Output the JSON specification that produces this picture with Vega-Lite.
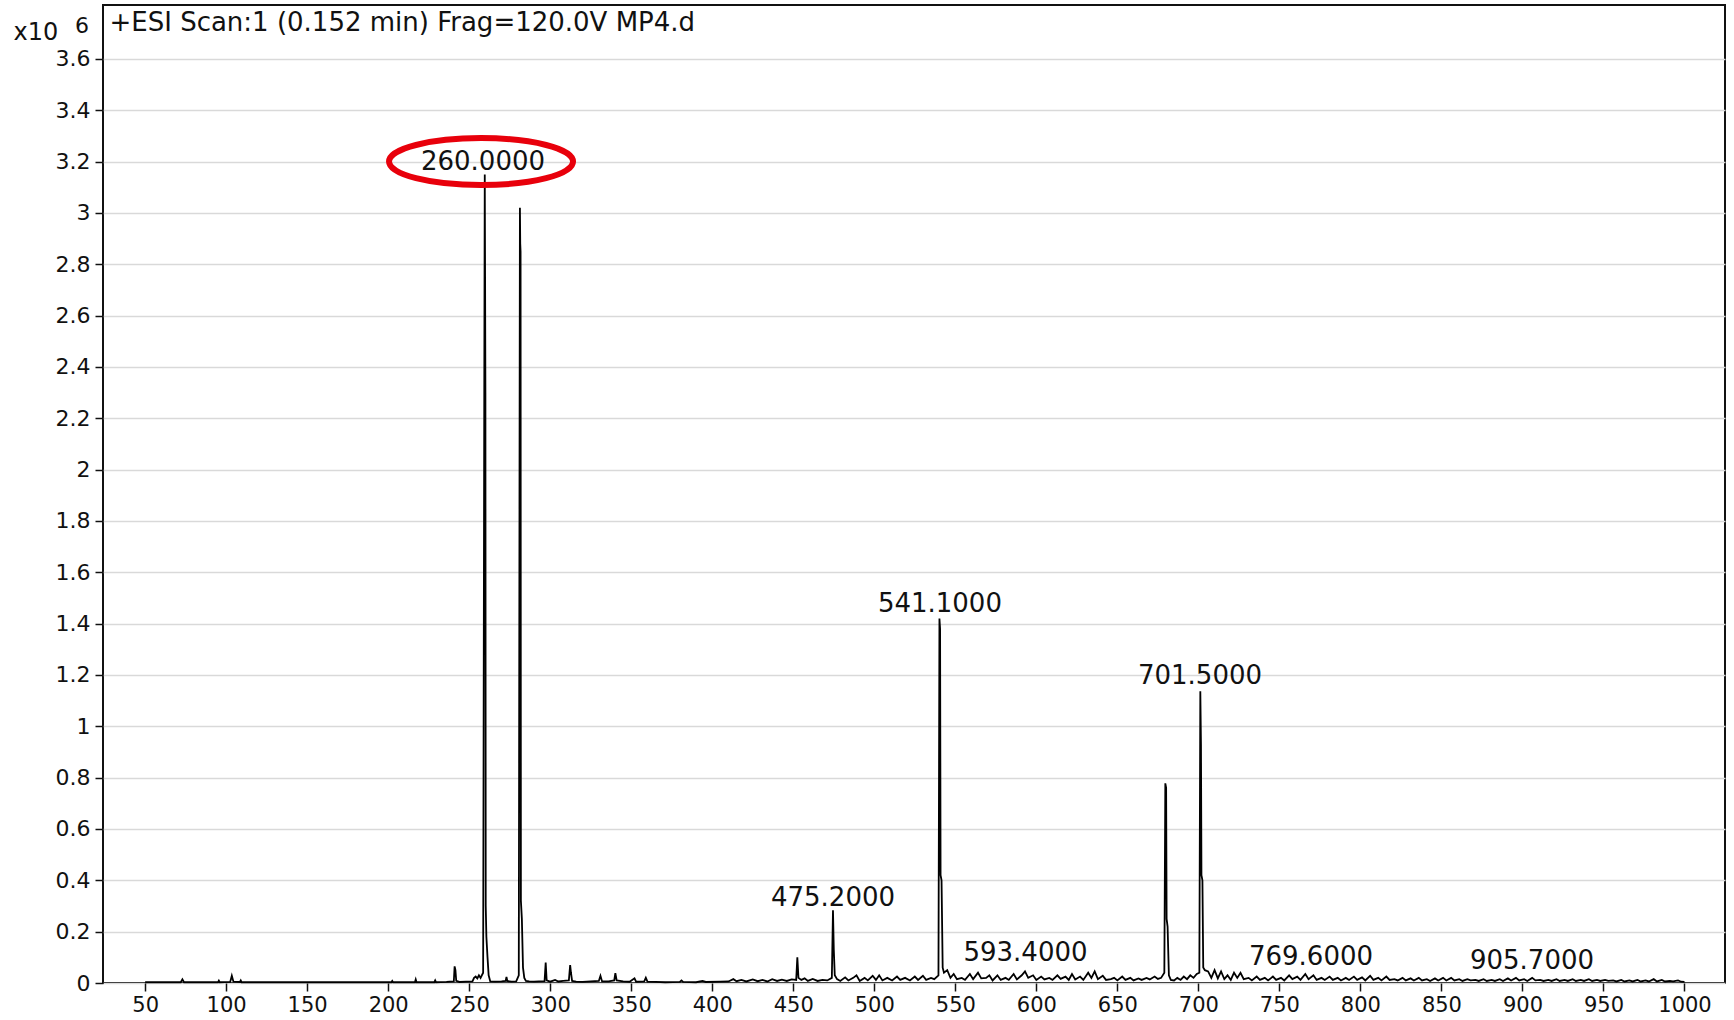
{
  "$schema": "https://vega.github.io/schema/vega-lite/v6.json",
  "width": 1622,
  "height": 978,
  "autosize": {"type": "none"},
  "padding": {"left": 103, "top": 5, "right": 9, "bottom": 37},
  "background": "white",
  "config": {
    "view": {"stroke": "#111", "strokeWidth": 2},
    "axis": {
      "labelFont": "DejaVu Sans",
      "labelFontSize": 21,
      "labelColor": "#111",
      "tickColor": "#111",
      "tickWidth": 1.5,
      "tickSize": 8,
      "domain": false,
      "gridColor": "#d9d9d9",
      "gridWidth": 1.5
    }
  },
  "datasets": {
    "spectrum": [
      {"mz": 50, "i": 0.003}, {"mz": 60, "i": 0.003}, {"mz": 72, "i": 0.003}, {"mz": 73, "i": 0.014}, {"mz": 74, "i": 0.003},
      {"mz": 85, "i": 0.003}, {"mz": 95, "i": 0.003}, {"mz": 95.5, "i": 0.009}, {"mz": 96, "i": 0.003},
      {"mz": 102.5, "i": 0.004}, {"mz": 103.5, "i": 0.028}, {"mz": 104.5, "i": 0.005}, {"mz": 108.5, "i": 0.004}, {"mz": 109, "i": 0.01}, {"mz": 109.5, "i": 0.003},
      {"mz": 150, "i": 0.003}, {"mz": 202, "i": 0.003}, {"mz": 202.5, "i": 0.008}, {"mz": 203, "i": 0.003},
      {"mz": 216.5, "i": 0.003}, {"mz": 217, "i": 0.014}, {"mz": 217.5, "i": 0.003}, {"mz": 228.5, "i": 0.003}, {"mz": 229, "i": 0.01}, {"mz": 229.5, "i": 0.003},
      {"mz": 236, "i": 0.004}, {"mz": 238, "i": 0.005}, {"mz": 240.5, "i": 0.006}, {"mz": 241, "i": 0.065}, {"mz": 241.5, "i": 0.05}, {"mz": 242, "i": 0.008},
      {"mz": 244, "i": 0.004}, {"mz": 248, "i": 0.005}, {"mz": 252, "i": 0.006}, {"mz": 253, "i": 0.02}, {"mz": 254, "i": 0.025}, {"mz": 255, "i": 0.018},
      {"mz": 256, "i": 0.03}, {"mz": 257, "i": 0.02}, {"mz": 258.6, "i": 0.04}, {"mz": 259.3, "i": 2.3}, {"mz": 259.6, "i": 3.15}, {"mz": 259.8, "i": 2.75},
      {"mz": 260.0, "i": 2.3}, {"mz": 260.2, "i": 0.3}, {"mz": 260.6, "i": 0.18}, {"mz": 261.3, "i": 0.1}, {"mz": 262, "i": 0.03}, {"mz": 263, "i": 0.006},
      {"mz": 266, "i": 0.005}, {"mz": 270, "i": 0.006}, {"mz": 272.5, "i": 0.008}, {"mz": 273, "i": 0.024}, {"mz": 273.5, "i": 0.008},
      {"mz": 276, "i": 0.005}, {"mz": 279, "i": 0.006}, {"mz": 280.6, "i": 0.03}, {"mz": 281.3, "i": 3.02}, {"mz": 281.5, "i": 2.88}, {"mz": 281.7, "i": 2.85},
      {"mz": 281.9, "i": 0.32}, {"mz": 282.5, "i": 0.25}, {"mz": 283.2, "i": 0.06}, {"mz": 284, "i": 0.02}, {"mz": 285, "i": 0.008},
      {"mz": 287, "i": 0.006}, {"mz": 290, "i": 0.005}, {"mz": 293, "i": 0.006}, {"mz": 296.5, "i": 0.007}, {"mz": 297.2, "i": 0.08}, {"mz": 297.8, "i": 0.01},
      {"mz": 300, "i": 0.005}, {"mz": 303, "i": 0.012}, {"mz": 305, "i": 0.006}, {"mz": 308, "i": 0.008}, {"mz": 311.5, "i": 0.01}, {"mz": 312.3, "i": 0.07},
      {"mz": 312.8, "i": 0.04}, {"mz": 313.5, "i": 0.008}, {"mz": 316, "i": 0.005}, {"mz": 320, "i": 0.004}, {"mz": 325, "i": 0.006}, {"mz": 330, "i": 0.008},
      {"mz": 331, "i": 0.028}, {"mz": 332, "i": 0.006}, {"mz": 336, "i": 0.006}, {"mz": 339.5, "i": 0.01}, {"mz": 340.2, "i": 0.038}, {"mz": 341, "i": 0.01},
      {"mz": 345, "i": 0.006}, {"mz": 349, "i": 0.005}, {"mz": 352, "i": 0.018}, {"mz": 353, "i": 0.005}, {"mz": 358, "i": 0.006}, {"mz": 359, "i": 0.02},
      {"mz": 360, "i": 0.005}, {"mz": 365, "i": 0.004}, {"mz": 371, "i": 0.003}, {"mz": 380, "i": 0.004}, {"mz": 381, "i": 0.01}, {"mz": 382, "i": 0.004},
      {"mz": 390, "i": 0.003}, {"mz": 394, "i": 0.008}, {"mz": 396, "i": 0.004}, {"mz": 405, "i": 0.005}, {"mz": 410, "i": 0.006}, {"mz": 413, "i": 0.015},
      {"mz": 415, "i": 0.007}, {"mz": 418, "i": 0.012}, {"mz": 421, "i": 0.006}, {"mz": 425, "i": 0.014}, {"mz": 428, "i": 0.007}, {"mz": 431, "i": 0.012},
      {"mz": 434, "i": 0.006}, {"mz": 437, "i": 0.015}, {"mz": 440, "i": 0.008}, {"mz": 443, "i": 0.013}, {"mz": 446, "i": 0.008}, {"mz": 449, "i": 0.014},
      {"mz": 451.8, "i": 0.012}, {"mz": 452.5, "i": 0.1}, {"mz": 453.2, "i": 0.02}, {"mz": 455, "i": 0.012}, {"mz": 457, "i": 0.018}, {"mz": 459, "i": 0.008},
      {"mz": 462, "i": 0.016}, {"mz": 465, "i": 0.008}, {"mz": 468, "i": 0.012}, {"mz": 471, "i": 0.01}, {"mz": 473.8, "i": 0.02}, {"mz": 474.5, "i": 0.283},
      {"mz": 475, "i": 0.13}, {"mz": 475.6, "i": 0.03}, {"mz": 477, "i": 0.015}, {"mz": 479, "i": 0.008}, {"mz": 482, "i": 0.022}, {"mz": 484, "i": 0.01},
      {"mz": 487, "i": 0.02}, {"mz": 489, "i": 0.03}, {"mz": 491, "i": 0.008}, {"mz": 494, "i": 0.02}, {"mz": 496, "i": 0.01}, {"mz": 499, "i": 0.028},
      {"mz": 501, "i": 0.012}, {"mz": 503, "i": 0.03}, {"mz": 505, "i": 0.01}, {"mz": 508, "i": 0.02}, {"mz": 511, "i": 0.01}, {"mz": 514, "i": 0.025},
      {"mz": 516, "i": 0.012}, {"mz": 519, "i": 0.02}, {"mz": 522, "i": 0.01}, {"mz": 525, "i": 0.025}, {"mz": 527, "i": 0.012}, {"mz": 530, "i": 0.028},
      {"mz": 532, "i": 0.012}, {"mz": 535, "i": 0.02}, {"mz": 537, "i": 0.015}, {"mz": 539.6, "i": 0.03}, {"mz": 540.2, "i": 1.42}, {"mz": 540.6, "i": 1.38},
      {"mz": 540.9, "i": 0.42}, {"mz": 541.5, "i": 0.4}, {"mz": 542.2, "i": 0.06}, {"mz": 543, "i": 0.04}, {"mz": 545, "i": 0.05}, {"mz": 547, "i": 0.02},
      {"mz": 549, "i": 0.035}, {"mz": 551, "i": 0.015}, {"mz": 554, "i": 0.02}, {"mz": 556, "i": 0.012}, {"mz": 559, "i": 0.035}, {"mz": 561, "i": 0.015},
      {"mz": 564, "i": 0.04}, {"mz": 566, "i": 0.018}, {"mz": 569, "i": 0.02}, {"mz": 571, "i": 0.03}, {"mz": 573, "i": 0.01}, {"mz": 576, "i": 0.03},
      {"mz": 578, "i": 0.012}, {"mz": 581, "i": 0.02}, {"mz": 583, "i": 0.012}, {"mz": 586, "i": 0.035}, {"mz": 588, "i": 0.014}, {"mz": 591, "i": 0.03},
      {"mz": 593, "i": 0.045}, {"mz": 595, "i": 0.02}, {"mz": 598, "i": 0.03}, {"mz": 600, "i": 0.012}, {"mz": 603, "i": 0.025}, {"mz": 605, "i": 0.014},
      {"mz": 608, "i": 0.02}, {"mz": 610, "i": 0.012}, {"mz": 613, "i": 0.03}, {"mz": 615, "i": 0.016}, {"mz": 618, "i": 0.025}, {"mz": 620, "i": 0.012},
      {"mz": 622, "i": 0.035}, {"mz": 624, "i": 0.014}, {"mz": 627, "i": 0.025}, {"mz": 629, "i": 0.012}, {"mz": 632, "i": 0.04}, {"mz": 634, "i": 0.02},
      {"mz": 636, "i": 0.045}, {"mz": 638, "i": 0.015}, {"mz": 641, "i": 0.028}, {"mz": 643, "i": 0.012}, {"mz": 646, "i": 0.015}, {"mz": 648, "i": 0.02},
      {"mz": 650, "i": 0.01}, {"mz": 653, "i": 0.025}, {"mz": 655, "i": 0.012}, {"mz": 658, "i": 0.02}, {"mz": 660, "i": 0.01}, {"mz": 663, "i": 0.018},
      {"mz": 665, "i": 0.012}, {"mz": 668, "i": 0.02}, {"mz": 670, "i": 0.014}, {"mz": 673, "i": 0.025}, {"mz": 675, "i": 0.016}, {"mz": 677, "i": 0.02},
      {"mz": 679, "i": 0.04}, {"mz": 679.6, "i": 0.778}, {"mz": 680.1, "i": 0.76}, {"mz": 680.4, "i": 0.25}, {"mz": 681, "i": 0.22}, {"mz": 681.8, "i": 0.03},
      {"mz": 683, "i": 0.012}, {"mz": 685, "i": 0.01}, {"mz": 687, "i": 0.02}, {"mz": 689, "i": 0.012}, {"mz": 691, "i": 0.025}, {"mz": 693, "i": 0.015},
      {"mz": 695, "i": 0.03}, {"mz": 697, "i": 0.02}, {"mz": 699, "i": 0.035}, {"mz": 700.6, "i": 0.04}, {"mz": 701.2, "i": 1.137}, {"mz": 701.6, "i": 0.93},
      {"mz": 701.9, "i": 0.42}, {"mz": 702.5, "i": 0.4}, {"mz": 703, "i": 0.06}, {"mz": 704, "i": 0.05}, {"mz": 706, "i": 0.045}, {"mz": 708, "i": 0.02},
      {"mz": 710, "i": 0.05}, {"mz": 712, "i": 0.018}, {"mz": 714, "i": 0.045}, {"mz": 716, "i": 0.015}, {"mz": 718, "i": 0.03}, {"mz": 720, "i": 0.012},
      {"mz": 722, "i": 0.04}, {"mz": 724, "i": 0.02}, {"mz": 726, "i": 0.04}, {"mz": 728, "i": 0.015}, {"mz": 731, "i": 0.02}, {"mz": 733, "i": 0.01},
      {"mz": 736, "i": 0.025}, {"mz": 738, "i": 0.012}, {"mz": 741, "i": 0.02}, {"mz": 743, "i": 0.01}, {"mz": 746, "i": 0.025}, {"mz": 748, "i": 0.012},
      {"mz": 751, "i": 0.02}, {"mz": 753, "i": 0.01}, {"mz": 756, "i": 0.03}, {"mz": 758, "i": 0.015}, {"mz": 761, "i": 0.025}, {"mz": 763, "i": 0.012},
      {"mz": 766, "i": 0.035}, {"mz": 768, "i": 0.015}, {"mz": 771, "i": 0.03}, {"mz": 773, "i": 0.012}, {"mz": 776, "i": 0.02}, {"mz": 778, "i": 0.012},
      {"mz": 781, "i": 0.025}, {"mz": 783, "i": 0.012}, {"mz": 786, "i": 0.02}, {"mz": 788, "i": 0.01}, {"mz": 791, "i": 0.02}, {"mz": 793, "i": 0.012},
      {"mz": 796, "i": 0.025}, {"mz": 798, "i": 0.012}, {"mz": 801, "i": 0.022}, {"mz": 803, "i": 0.01}, {"mz": 806, "i": 0.028}, {"mz": 808, "i": 0.012},
      {"mz": 811, "i": 0.02}, {"mz": 813, "i": 0.01}, {"mz": 816, "i": 0.025}, {"mz": 818, "i": 0.012}, {"mz": 821, "i": 0.015}, {"mz": 823, "i": 0.01},
      {"mz": 826, "i": 0.02}, {"mz": 828, "i": 0.01}, {"mz": 831, "i": 0.018}, {"mz": 833, "i": 0.01}, {"mz": 836, "i": 0.02}, {"mz": 838, "i": 0.01},
      {"mz": 841, "i": 0.015}, {"mz": 843, "i": 0.008}, {"mz": 846, "i": 0.018}, {"mz": 848, "i": 0.01}, {"mz": 851, "i": 0.02}, {"mz": 853, "i": 0.01},
      {"mz": 856, "i": 0.02}, {"mz": 858, "i": 0.01}, {"mz": 861, "i": 0.015}, {"mz": 863, "i": 0.008}, {"mz": 866, "i": 0.015}, {"mz": 868, "i": 0.01},
      {"mz": 871, "i": 0.012}, {"mz": 873, "i": 0.008}, {"mz": 876, "i": 0.015}, {"mz": 878, "i": 0.008}, {"mz": 881, "i": 0.012}, {"mz": 883, "i": 0.008},
      {"mz": 886, "i": 0.015}, {"mz": 888, "i": 0.008}, {"mz": 891, "i": 0.018}, {"mz": 893, "i": 0.01}, {"mz": 896, "i": 0.02}, {"mz": 898, "i": 0.01},
      {"mz": 901, "i": 0.015}, {"mz": 903, "i": 0.008}, {"mz": 906, "i": 0.02}, {"mz": 908, "i": 0.01}, {"mz": 911, "i": 0.012}, {"mz": 913, "i": 0.008},
      {"mz": 916, "i": 0.012}, {"mz": 918, "i": 0.008}, {"mz": 921, "i": 0.015}, {"mz": 923, "i": 0.008}, {"mz": 926, "i": 0.012}, {"mz": 928, "i": 0.008},
      {"mz": 931, "i": 0.015}, {"mz": 933, "i": 0.008}, {"mz": 936, "i": 0.012}, {"mz": 938, "i": 0.008}, {"mz": 941, "i": 0.015}, {"mz": 943, "i": 0.008},
      {"mz": 946, "i": 0.012}, {"mz": 948, "i": 0.008}, {"mz": 951, "i": 0.012}, {"mz": 953, "i": 0.008}, {"mz": 956, "i": 0.01}, {"mz": 958, "i": 0.006},
      {"mz": 961, "i": 0.012}, {"mz": 963, "i": 0.006}, {"mz": 966, "i": 0.01}, {"mz": 968, "i": 0.006}, {"mz": 971, "i": 0.012}, {"mz": 973, "i": 0.006},
      {"mz": 976, "i": 0.01}, {"mz": 978, "i": 0.006}, {"mz": 981, "i": 0.015}, {"mz": 983, "i": 0.006}, {"mz": 986, "i": 0.012}, {"mz": 988, "i": 0.006},
      {"mz": 991, "i": 0.008}, {"mz": 993, "i": 0.006}, {"mz": 996, "i": 0.01}, {"mz": 998, "i": 0.005}, {"mz": 1000, "i": 0.004}
    ],
    "peaks": [
      {"mz": 258.5, "i": 3.2, "label": "260.0000"},
      {"mz": 540.5, "i": 1.476, "label": "541.1000"},
      {"mz": 701.0, "i": 1.196, "label": "701.5000"},
      {"mz": 474.5, "i": 0.331, "label": "475.2000"},
      {"mz": 593.3, "i": 0.115, "label": "593.4000"},
      {"mz": 769.5, "i": 0.102, "label": "769.6000"},
      {"mz": 905.9, "i": 0.086, "label": "905.7000"}
    ],
    "highlight": [
      {"mz": 257.3, "i": 3.2}
    ],
    "heading": [
      {"mz": 28.0, "i": 3.739, "t": "+ESI Scan:1 (0.152 min) Frag=120.0V MP4.d"}
    ],
    "exponent": [
      {"mz": 11.0, "i": 3.728, "t": "6"}
    ],
    "grid": [
      {"mz": 50}, {"mz": 100}, {"mz": 150}, {"mz": 200}, {"mz": 250}, {"mz": 300}, {"mz": 350}, {"mz": 400}, {"mz": 450}, {"mz": 500},
      {"mz": 550}, {"mz": 600}, {"mz": 650}, {"mz": 700}, {"mz": 750}, {"mz": 800}, {"mz": 850}, {"mz": 900}, {"mz": 950}, {"mz": 1000}
    ]
  },
  "encoding": {
    "x": {
      "field": "mz",
      "type": "quantitative",
      "scale": {"domain": [24, 1025], "nice": false, "zero": false},
      "axis": {
        "title": null,
        "grid": false,
        "values": [50, 100, 150, 200, 250, 300, 350, 400, 450, 500, 550, 600, 650, 700, 750, 800, 850, 900, 950, 1000],
        "format": "d",
        "labelPadding": 3,
        "labelFlush": false,
        "labelOverlap": false
      }
    },
    "y": {
      "field": "i",
      "type": "quantitative",
      "scale": {"domain": [0, 3.81], "nice": false, "zero": false},
      "axis": {
        "title": "x10",
        "titleAngle": 0,
        "titleX": -90,
        "titleY": 34,
        "titleAlign": "left",
        "titleBaseline": "alphabetic",
        "titleFont": "DejaVu Sans",
        "titleFontSize": 24,
        "titleFontWeight": "normal",
        "titleColor": "#111",
        "grid": true,
        "values": [0, 0.2, 0.4, 0.6, 0.8, 1, 1.2, 1.4, 1.6, 1.8, 2, 2.2, 2.4, 2.6, 2.8, 3, 3.2, 3.4, 3.6],
        "format": "~g",
        "labelFontSize": 22,
        "labelPadding": 5,
        "labelFlush": false,
        "labelOverlap": false
      }
    }
  },
  "layer": [
    {
      "data": {"name": "grid"},
      "mark": {"type": "rule", "color": "#d9d9d9", "strokeWidth": 1.5},
      "encoding": {
        "y": {"datum": 0},
        "y2": {"datum": 3.66}
      }
    },
    {
      "data": {"name": "spectrum"},
      "mark": {"type": "line", "color": "#000", "strokeWidth": 1.8, "interpolate": "linear"}
    },
    {
      "data": {"name": "peaks"},
      "mark": {"type": "text", "font": "DejaVu Sans", "fontSize": 26, "color": "#111", "align": "center", "baseline": "middle"},
      "encoding": {"text": {"field": "label"}}
    },
    {
      "data": {"name": "heading"},
      "mark": {"type": "text", "font": "DejaVu Sans", "fontSize": 26, "color": "#111", "align": "left", "baseline": "middle"},
      "encoding": {"text": {"field": "t"}}
    },
    {
      "data": {"name": "exponent"},
      "mark": {"type": "text", "font": "DejaVu Sans", "fontSize": 22, "color": "#111", "align": "center", "baseline": "middle", "clip": false},
      "encoding": {"text": {"field": "t"}}
    },
    {
      "data": {"name": "highlight"},
      "mark": {
        "type": "point",
        "filled": false,
        "stroke": "#e8000b",
        "strokeWidth": 6,
        "size": 33856,
        "opacity": 1,
        "shape": "M -1 0 C -1 -0.1408 -0.5523 -0.255 0 -0.255 C 0.5523 -0.255 1 -0.1408 1 0 C 1 0.1408 0.5523 0.255 0 0.255 C -0.5523 0.255 -1 0.1408 -1 0 Z"
      }
    }
  ]
}
